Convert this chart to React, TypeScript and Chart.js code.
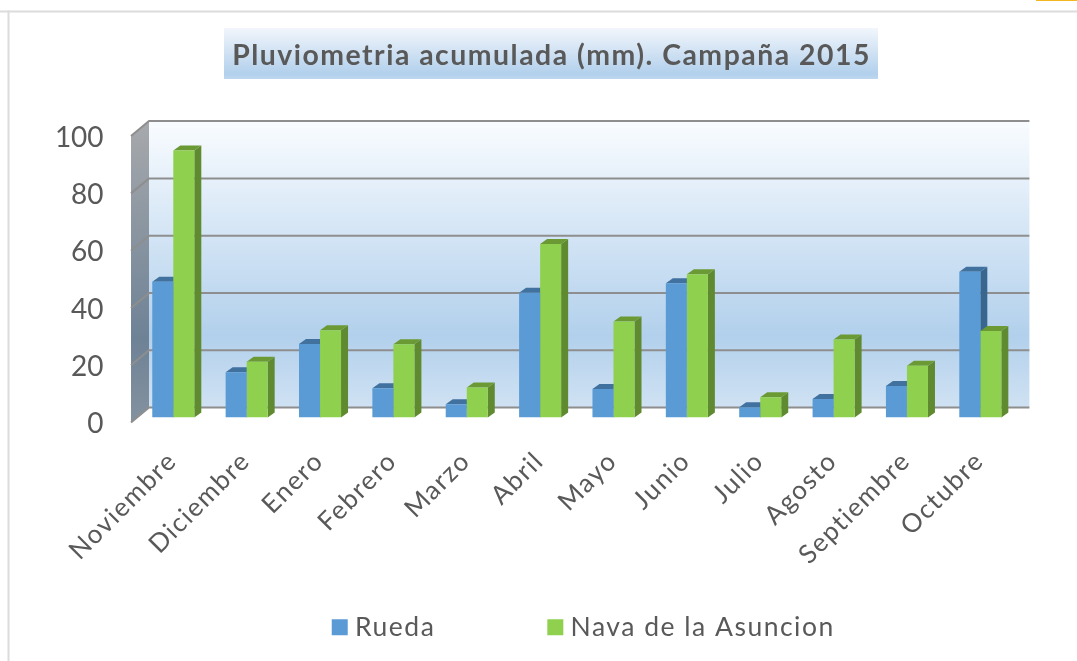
import React, { useEffect, useRef } from "react";
import { Chart, registerables } from "chart.js";

Chart.register(...registerables);

const titleText = "Pluviometria acumulada (mm). Campaña 2015";
const months = ["Noviembre", "Diciembre", "Enero", "Febrero", "Marzo", "Abril", "Mayo", "Junio", "Julio", "Agosto", "Septiembre", "Octubre"];
const rueda = [47.4, 15.8, 25.7, 10.2, 4.7, 43.6, 10, 46.9, 3.6, 6.5, 11, 50.9];
const nava = [93.2, 19.5, 30.5, 25.6, 10.5, 60.6, 33.5, 50, 7.1, 27.3, 18.1, 30.2];
const yTicks = [0, 20, 40, 60, 80, 100];

const FONT = "Lato, 'Open Sans', sans-serif";
const TEXT = "#595959";

const depthPlugin = {
  id: "depth",
  beforeLayout(chart: any) {
    chart.ctx.letterSpacing = "1.5px";
  },
  afterLayout(chart: any) {
    const tb = chart.titleBlock;
    tb.left += 86;
    const lg = chart.legend;
    lg.left += 155.5;
    lg.top = 496;
    lg.bottom = 661;
    lg.height = lg.bottom - lg.top;
  },
  beforeDraw(chart: any) {
    const { ctx, width, height } = chart;
    ctx.letterSpacing = "1.5px";
    ctx.save();
    ctx.fillStyle = "#ffffff";
    ctx.fillRect(0, 0, width, height);
    ctx.fillStyle = "#dcdcdc";
    ctx.fillRect(0, 10.5, width, 2);
    ctx.fillRect(7.5, 10.5, 2, height);
    ctx.fillStyle = "#f3b61f";
    ctx.fillRect(1036, 0, 41, 1);
    const g = ctx.createLinearGradient(0, 28, 0, 79);
    g.addColorStop(0, "#f2f6fc");
    g.addColorStop(0.9, "#b2d0ec");
    g.addColorStop(1, "#bdd7ef");
    ctx.fillStyle = g;
    ctx.fillRect(224, 28, 654, 51);
    ctx.restore();
  },
  beforeDatasetsDraw(chart: any) {
    const { ctx, scales } = chart;
    const y = scales.y;
    const area = chart.chartArea;
    const backDx = 12.4;
    const backDy = -10;
    const frontDx = -5.6;
    const frontDy = 5;
    const left = area.left;
    const backLeft = left + backDx;
    const backRight = area.right + backDx;
    const yTop = y.getPixelForValue(100);
    const yBot = y.getPixelForValue(0);

    ctx.save();
    let g = ctx.createLinearGradient(0, yTop + backDy, 0, yBot + backDy);
    g.addColorStop(0, "#f9fcff");
    g.addColorStop(0.75, "#b2d0ec");
    g.addColorStop(1, "#d0e2f3");
    ctx.fillStyle = g;
    ctx.fillRect(backLeft, yTop + backDy, backRight - backLeft, yBot - yTop);

    g = ctx.createLinearGradient(0, yTop + backDy, 0, yBot + frontDy);
    g.addColorStop(0, "#a7a9ac");
    g.addColorStop(0.72, "#6e8296");
    g.addColorStop(1, "#84929f");
    ctx.fillStyle = g;
    ctx.beginPath();
    ctx.moveTo(left + frontDx, yTop + frontDy);
    ctx.lineTo(backLeft, yTop + backDy);
    ctx.lineTo(backLeft, yBot + backDy);
    ctx.lineTo(left + frontDx, yBot + frontDy);
    ctx.closePath();
    ctx.fill();

    ctx.strokeStyle = "#8e8e8e";
    ctx.lineWidth = 2;
    yTicks.forEach((v) => {
      const p = y.getPixelForValue(v);
      ctx.beginPath();
      ctx.moveTo(left + frontDx, p + frontDy);
      ctx.lineTo(backLeft, p + backDy);
      ctx.lineTo(backRight, p + backDy);
      ctx.stroke();
    });
    ctx.restore();

    const sideCols = ["#38668f", "#5f8a2f"];
    const topCols = ["#41719f", "#6b9a35"];
    const dx = 7;
    const dy = 5;
    chart.data.datasets.forEach((_: any, di: number) => {
      const meta = chart.getDatasetMeta(di);
      meta.data.forEach((bar: any) => {
        const props = bar.getProps(["x", "y", "base", "width"], true);
        const l = props.x - props.width / 2;
        const r = props.x + props.width / 2;
        ctx.fillStyle = sideCols[di];
        ctx.beginPath();
        ctx.moveTo(r, props.y);
        ctx.lineTo(r + dx, props.y - dy);
        ctx.lineTo(r + dx, props.base - dy);
        ctx.lineTo(r, props.base);
        ctx.closePath();
        ctx.fill();
        ctx.fillStyle = topCols[di];
        ctx.beginPath();
        ctx.moveTo(l, props.y);
        ctx.lineTo(l + dx, props.y - dy);
        ctx.lineTo(r + dx, props.y - dy);
        ctx.lineTo(r, props.y);
        ctx.closePath();
        ctx.fill();
      });
    });
  },
};

export default function App() {
  const ref = useRef<HTMLCanvasElement | null>(null);
  useEffect(() => {
    if (!ref.current) return;
    const chart = new Chart(ref.current, {
      type: "bar",
      data: {
        labels: months,
        datasets: [
          { label: "Rueda", data: rueda, backgroundColor: "#5b9bd5", borderWidth: 0, categoryPercentage: 0.573, barPercentage: 1 },
          { label: "Nava de la Asuncion", data: nava, backgroundColor: "#8fd14f", borderWidth: 0, categoryPercentage: 0.573, barPercentage: 1 },
        ],
      },
      options: {
        responsive: false,
        animation: false,
        layout: { padding: { left: 0, right: 60, top: 0, bottom: 0 } },
        plugins: {
          title: {
            display: true,
            text: titleText,
            color: TEXT,
            font: { family: FONT, size: 28.4, weight: "bold" },
            padding: { top: 39, bottom: 58 },
          },
          legend: {
            display: true,
            position: "bottom",
            maxHeight: 60,
            labels: {
              color: TEXT,
              font: { family: FONT, size: 26.5 },
              boxWidth: 4,
              boxHeight: 4,
              padding: 118,
              generateLabels: (chart: any) =>
                Chart.defaults.plugins.legend.labels.generateLabels(chart).map((item: any) => ({
                  ...item,
                  lineWidth: 12,
                  strokeStyle: item.fillStyle,
                })),
            },
          },
          tooltip: { enabled: false },
        },
        scales: {
          x: {
            grid: { display: false },
            border: { display: false },
            afterFit: (s: any) => {
              s.height = 183.4;
            },
            ticks: {
              color: TEXT,
              font: { family: FONT, size: 26 },
              minRotation: 45,
              maxRotation: 45,
              autoSkip: false,
              padding: 20,
              labelOffset: -1,
            },
          },
          y: {
            min: 0,
            max: 100,
            grid: { display: false, drawTicks: false },
            border: { display: false },
            afterFit: (s: any) => {
              s.width = 136.6;
              if (!s.__tightLabels) {
                s.__tightLabels = true;
                const drawLabels = s.drawLabels.bind(s);
                s.drawLabels = (area: any) => {
                  const prev = s.ctx.letterSpacing;
                  s.ctx.letterSpacing = "0px";
                  drawLabels(area);
                  s.ctx.letterSpacing = prev;
                };
              }
            },
            ticks: {
              stepSize: 20,
              color: TEXT,
              font: { family: FONT, size: 28 },
              padding: 33,
              labelOffset: 6.5,
            },
          },
        },
      },
      plugins: [depthPlugin],
    } as any);
    return () => chart.destroy();
  }, []);
  return (
    <div style={{ position: "absolute", left: 0, top: 0, width: 1077, height: 661, overflow: "hidden" }}>
      <canvas ref={ref} width={1077} height={661} style={{ display: "block" }} />
    </div>
  );
}
